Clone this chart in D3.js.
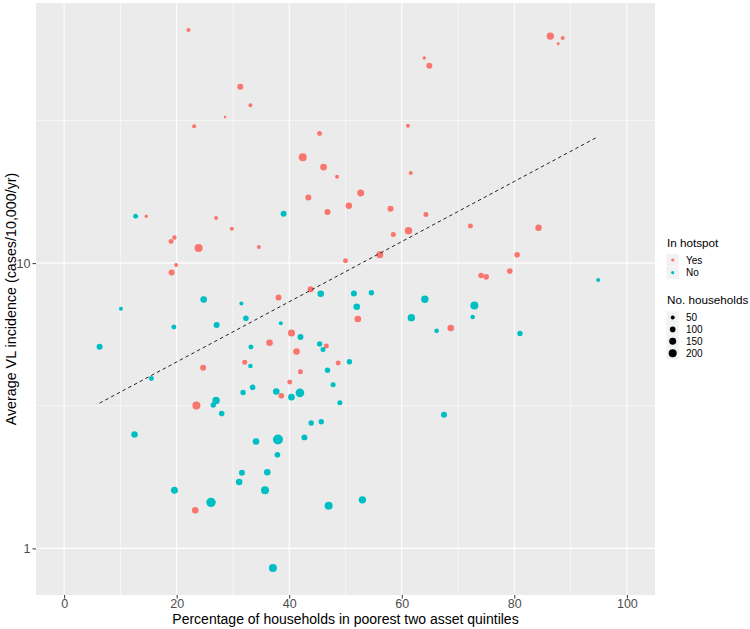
<!DOCTYPE html>
<html><head><meta charset="utf-8">
<script src="https://cdn.jsdelivr.net/npm/d3@7"></script>
<style>
body{margin:0;background:#fff;}
svg{display:block;font-family:"Liberation Sans",Arial,sans-serif;}
</style></head>
<body><div id="chart"></div>
<script>
// ---- data ----
const xTicks = [0, 20, 40, 60, 80, 100];
const yTicks = [1, 10];
const xLimits = [0, 100];
const legendSizes = [50, 100, 150, 200];
const groups = ["Yes", "No"];

const yesPct = [22.1,31.3,33.1,28.6,23.1,45.4,42.4,46.1,48.5,43.4,52.7,50.6,46.8,58.0,64.3,61.1,61.6,64.0,64.9,86.4,88.6,87.8,84.3,72.2,80.5,79.2,74.1,75.0,61.2,58.5,56.1,50.0,34.6,29.8,27.0,23.9,19.6,19.0,19.9,19.1,14.6,43.8,38.1,52.2,68.7,40.4,36.5,41.3,46.6,32.1,24.7,42.0,48.7,40.1,38.6,23.5,23.3];
const yesInc = [65.7,41.5,35.8,32.5,30.2,28.5,23.5,21.7,20.1,17.0,17.6,15.9,15.1,15.5,14.8,30.3,20.7,52.4,49.2,62.5,61.6,58.7,13.3,13.5,10.7,9.38,9.05,8.95,13.0,12.6,10.7,10.2,11.4,13.2,14.4,11.3,12.3,11.9,9.86,9.27,14.6,8.10,7.58,6.37,5.92,5.69,5.26,4.90,5.12,4.49,4.30,4.16,4.47,3.83,3.43,3.17,1.36];
const yesHh  = [50,112,50,21,50,78,200,136,50,112,153,128,112,112,78,50,50,36,112,171,50,28,128,78,98,98,98,98,171,78,153,78,50,50,50,200,60,78,50,112,36,112,112,136,136,153,136,136,78,78,112,78,78,78,98,200,136];

const noPct = [12.7,39.0,94.9,45.6,51.5,54.6,64.1,24.8,10.1,31.5,32.3,19.5,27.1,6.3,15.5,31.8,27.0,26.5,28.0,12.5,31.6,31.1,19.6,26.1,52.0,61.7,66.2,72.9,72.6,81.0,38.5,42.0,33.2,45.4,46.0,33.1,50.7,46.8,47.8,33.5,37.7,40.4,41.9,49.0,67.5,43.9,45.7,34.1,38.0,42.7,37.9,36.1,35.7,47.0,53.0,37.1];
const noInc = [14.6,14.9,8.72,7.81,7.83,7.87,7.47,7.46,6.92,7.22,6.41,5.97,6.07,5.09,3.94,3.52,3.30,3.18,2.97,2.51,1.84,1.71,1.60,1.45,7.03,6.44,5.79,7.11,6.47,5.67,6.15,5.51,5.08,5.21,4.98,4.36,4.51,4.21,3.75,3.67,3.55,3.39,3.51,3.24,2.94,2.75,2.78,2.37,2.41,2.45,2.13,1.85,1.60,1.41,1.48,0.853];
const noHh  = [78,112,50,136,112,91,171,136,50,50,98,78,112,112,78,91,171,91,98,128,112,136,153,276,136,171,66,200,66,91,50,112,78,91,78,66,91,91,78,98,136,136,231,78,112,91,91,136,312,112,98,136,200,200,171,200];

const trendPct = [6.3, 94.8];
const trendInc = [3.23, 27.7];

// ---- build ----
const W = 750, H = 629;
const P = {l: 36, r: 655, t: 3, b: 595};
const colors = {Yes: "#F8766D", No: "#00BFC4"};

const points = [];
yesPct.forEach((v, i) => points.push({x: v, y: yesInc[i], n: yesHh[i], g: "Yes"}));
noPct.forEach((v, i) => points.push({x: v, y: noInc[i], n: noHh[i], g: "No"}));

const xr = xLimits[1] - xLimits[0];
const x = d3.scaleLinear().domain([xLimits[0] - 0.05 * xr, xLimits[1] + 0.05 * xr]).range([P.l, P.r]);
const ext = d3.extent(points, d => Math.log10(d.y));
const er = ext[1] - ext[0];
const y = d3.scaleLog().domain([Math.pow(10, ext[0] - 0.05 * er), Math.pow(10, ext[1] + 0.05 * er)]).range([P.b, P.t]);
const r = d3.scaleSqrt().domain([0, 200]).range([0, 4]);

const svg = d3.select("#chart").append("svg").attr("width", W).attr("height", H);
svg.append("rect").attr("width", W).attr("height", H).attr("fill", "#fff");

svg.append("rect").attr("x", P.l).attr("y", P.t).attr("width", P.r - P.l).attr("height", P.b - P.t).attr("fill", "#EBEBEB");

const grid = svg.append("g");
const xMinor = xTicks.slice(0, -1).map((d, i) => (d + xTicks[i + 1]) / 2);
const yMinor = [Math.sqrt(1 * 10), Math.sqrt(10 * 100)].filter(v => v >= y.domain()[0] && v <= y.domain()[1]);
grid.selectAll(".xm").data(xMinor).join("line")
  .attr("x1", d => x(d)).attr("x2", d => x(d)).attr("y1", P.t).attr("y2", P.b)
  .attr("stroke", "#fff").attr("stroke-width", 0.55);
grid.selectAll(".ym").data(yMinor).join("line")
  .attr("y1", d => y(d)).attr("y2", d => y(d)).attr("x1", P.l).attr("x2", P.r)
  .attr("stroke", "#fff").attr("stroke-width", 0.55);
grid.selectAll(".xM").data(xTicks).join("line")
  .attr("x1", d => x(d)).attr("x2", d => x(d)).attr("y1", P.t).attr("y2", P.b)
  .attr("stroke", "#fff").attr("stroke-width", 1.1);
grid.selectAll(".yM").data(yTicks).join("line")
  .attr("y1", d => y(d)).attr("y2", d => y(d)).attr("x1", P.l).attr("x2", P.r)
  .attr("stroke", "#fff").attr("stroke-width", 1.1);

// points
svg.append("g").selectAll("circle").data(points).join("circle")
  .attr("cx", d => x(d.x)).attr("cy", d => y(d.y)).attr("r", d => r(d.n))
  .attr("fill", d => colors[d.g]);

// trend line
const line = d3.line().x(d => x(d[0])).y(d => y(d[1]));
svg.append("path").datum(trendPct.map((v, i) => [v, trendInc[i]]))
  .attr("d", line).attr("fill", "none").attr("stroke", "#222")
  .attr("stroke-width", 1).attr("stroke-dasharray", "3.5,3");

// axes
const xAxis = svg.append("g").attr("transform", `translate(0,${P.b})`)
  .call(d3.axisBottom(x).tickValues(xTicks).tickSize(3.5).tickPadding(1).tickFormat(d3.format("d")));
const yAxis = svg.append("g").attr("transform", `translate(${P.l},0)`)
  .call(d3.axisLeft(y).tickValues(yTicks).tickSize(3.5).tickPadding(2).tickFormat(d3.format("d")));
[xAxis, yAxis].forEach(a => {
  a.select(".domain").remove();
  a.selectAll(".tick line").attr("stroke", "#333").attr("stroke-width", 1);
  a.selectAll(".tick text").attr("fill", "#4D4D4D").style("font-size", "12.5px")
    .style("font-family", '"Liberation Sans",Arial,sans-serif');
});

svg.append("text").attr("x", (P.l + P.r) / 2).attr("y", 624)
  .attr("text-anchor", "middle").style("font-size", "14px").attr("fill", "#000")
  .text("Percentage of households in poorest two asset quintiles");
svg.append("text").attr("transform", `translate(15.5,${(P.t + P.b) / 2}) rotate(-90)`)
  .attr("text-anchor", "middle").style("font-size", "14.3px").attr("fill", "#000")
  .text("Average VL incidence (cases/10,000/yr)");

// legend
const lg = svg.append("g");
lg.append("text").attr("x", 667).attr("y", 247).style("font-size", "11.7px").text("In hotspot");
groups.forEach((g, i) => {
  const cy = 260 + i * 12.7;
  lg.append("rect").attr("x", 666.5).attr("y", cy - 6.2).attr("width", 12.4).attr("height", 12.4).attr("fill", "#F2F2F2");
  lg.append("circle").attr("cx", 672.7).attr("cy", cy).attr("r", 1.6).attr("fill", colors[g]);
  lg.append("text").attr("x", 686).attr("y", cy).attr("dy", "0.35em").style("font-size", "10px").text(g);
});
lg.append("text").attr("x", 667).attr("y", 304).style("font-size", "11.7px").text("No. households");
legendSizes.forEach((s, i) => {
  const cy = 317.5 + i * 11.9;
  lg.append("rect").attr("x", 666.5).attr("y", cy - 6).attr("width", 12.4).attr("height", 12).attr("fill", "#F2F2F2");
  lg.append("circle").attr("cx", 672.7).attr("cy", cy).attr("r", r(s)).attr("fill", "#000");
  lg.append("text").attr("x", 686).attr("y", cy).attr("dy", "0.35em").style("font-size", "10px").text(s);
});
</script></body></html>
